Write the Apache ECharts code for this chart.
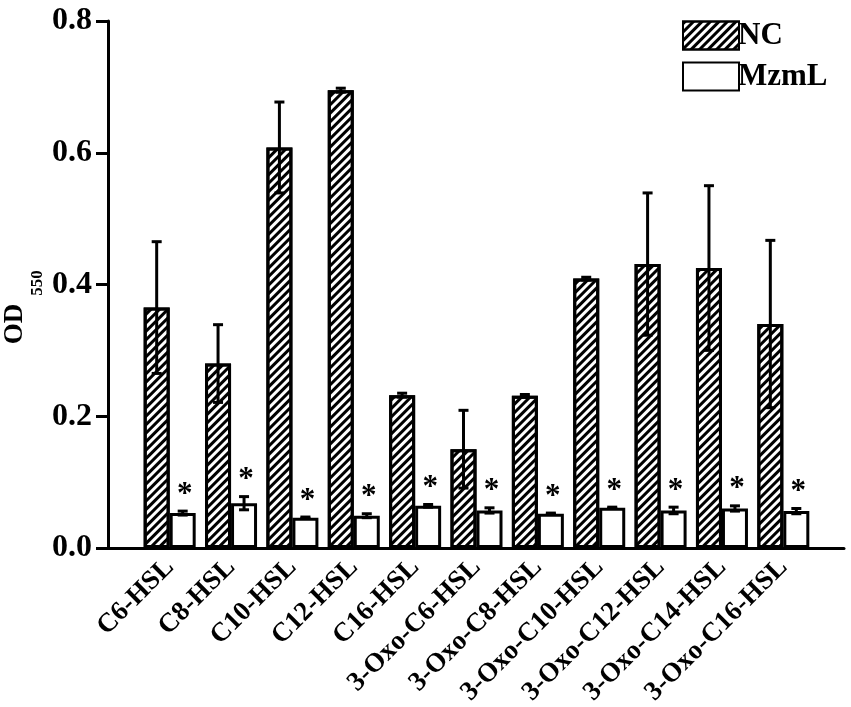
<!DOCTYPE html>
<html>
<head>
<meta charset="utf-8">
<title>OD550</title>
<script src="https://cdn.jsdelivr.net/npm/echarts@6/dist/echarts.min.js"></script>
<style>
  html, body { margin: 0; padding: 0; background: #fff; }
  #chart { width: 851px; height: 707px; }
</style>
</head>
<body>
<div id="chart"></div>
<script>
// data
const categories = ['C6-HSL', 'C8-HSL', 'C10-HSL', 'C12-HSL', 'C16-HSL',
    '3-Oxo-C6-HSL', '3-Oxo-C8-HSL', '3-Oxo-C10-HSL', '3-Oxo-C12-HSL', '3-Oxo-C14-HSL', '3-Oxo-C16-HSL'];
const ncValues = [0.365, 0.280, 0.608, 0.695, 0.232, 0.150, 0.231, 0.409, 0.431, 0.425, 0.340];
const ncErrors = [0.100, 0.059, 0.069, 0.003, 0.003, 0.059, 0.002, 0.002, 0.108, 0.125, 0.127];
const mzValues = [0.053, 0.068, 0.046, 0.049, 0.064, 0.057, 0.052, 0.061, 0.057, 0.060, 0.056];
const mzErrors = [0.003, 0.010, 0.001, 0.003, 0.002, 0.004, 0.001, 0.001, 0.005, 0.004, 0.004];
const marks = ['*', '*', '*', '*', '*', '*', '*', '*', '*', '*', '*'];
const yTicks = [0.0, 0.2, 0.4, 0.6, 0.8];

const FONT = '"Liberation Serif", "Times New Roman", serif';
const BAR_W = 26;
const CAP = 5;

const chart = echarts.init(document.getElementById('chart'));

/**
 * error bar (+ optional star) drawn next to the bar centre
 * side: -1 left bar of the group, 1 right bar
 */
function errorBar(side, withMark) {
    return function (params, api) {
        const i = api.value(0);
        const v = api.value(1);
        const e = api.value(2);
        const hi = api.coord([i, v + e]);
        const lo = api.coord([i, v - e]);
        const x = hi[0] + side * BAR_W / 2;
        const style = { stroke: '#000', lineWidth: 3 };
        const children = [
            { type: 'line', shape: { x1: x, y1: hi[1], x2: x, y2: lo[1] }, style },
            { type: 'line', shape: { x1: x - CAP, y1: hi[1], x2: x + CAP, y2: hi[1] }, style },
            { type: 'line', shape: { x1: x - CAP, y1: lo[1], x2: x + CAP, y2: lo[1] }, style }
        ];
        if (withMark) {
            children.push({
                type: 'text',
                style: {
                    text: marks[params.dataIndex], x: x + 2, y: hi[1] - 1,
                    align: 'center', verticalAlign: 'bottom',
                    font: 'bold 31px ' + FONT, fill: '#000'
                }
            });
        }
        return { type: 'group', children };
    };
}

const hatch = {
    color: '#000',
    dashArrayX: [1, 0],
    dashArrayY: [2.2, 3],
    rotation: -Math.PI / 4
};

const option = {
    animation: false,
    backgroundColor: '#fff',
    textStyle: { fontFamily: FONT },
    legend: {
        orient: 'vertical',
        left: 677,
        top: 15,
        itemWidth: 56,
        itemHeight: 28,
        itemGap: 10,
        icon: 'rect',
        data: ['NC', 'MzmL'],
        textStyle: { fontSize: 31, fontWeight: 'bold', color: '#000', fontFamily: FONT, padding: [0, 0, 0, -6] }
    },
    grid: [
        { left: 139, right: 37, top: 21, bottom: 159, outerBoundsMode: 'none', containLabel: false },
        { left: 108, right: 7, top: 21, bottom: 159, outerBoundsMode: 'none', containLabel: false }
    ],
    xAxis: [{
        type: 'category',
        data: categories,
        gridIndex: 0,
        axisLine: { show: false },
        axisTick: { show: false },
        axisLabel: {
            rotate: 45, margin: 15, interval: 0,
            fontSize: 27, fontWeight: 'bold', color: '#000', fontFamily: FONT
        }
    }, {
        type: 'value',
        gridIndex: 1,
        axisLine: { show: true, lineStyle: { color: '#000', width: 3 } },
        axisTick: { show: false },
        axisLabel: { show: false },
        splitLine: { show: false }
    }],
    yAxis: [{
        type: 'value',
        gridIndex: 0,
        min: 0,
        max: yTicks[yTicks.length - 1],
        interval: 0.2,
        offset: 31,
        name: '{a|OD}{b|550}{c| }',
        nameLocation: 'middle',
        nameGap: 62,
        nameMoveOverlap: false,
        nameTextStyle: {
            padding: [0, 45, 0, 0],
            rich: {
                a: { fontSize: 27, fontWeight: 'bold', color: '#000', fontFamily: FONT, lineHeight: 28, verticalAlign: 'top' },
                b: { fontSize: 17, fontWeight: 'bold', color: '#000', fontFamily: FONT, lineHeight: 17, verticalAlign: 'bottom', padding: [0, 0, 0, 8] },
                c: { fontSize: 2, lineHeight: 44 }
            }
        },
        axisLine: { show: true, lineStyle: { color: '#000', width: 3 } },
        axisTick: { show: true, length: 12, lineStyle: { color: '#000', width: 3 } },
        axisLabel: {
            margin: 16,
            fontSize: 32, fontWeight: 'bold', color: '#000', fontFamily: FONT,
            formatter: (v) => v.toFixed(1)
        },
        splitLine: { show: false }
    }, {
        type: 'value', gridIndex: 1, show: false
    }],
    series: [
        {
            name: 'NC',
            type: 'bar',
            barWidth: BAR_W,
            barGap: '0%',
            data: ncValues,
            itemStyle: { color: '#fff', borderColor: '#000', borderWidth: 3, decal: hatch }
        },
        {
            name: 'MzmL',
            type: 'bar',
            barWidth: BAR_W,
            barGap: '0%',
            data: mzValues,
            itemStyle: { color: '#fff', borderColor: '#000', borderWidth: 3 }
        },
        {
            type: 'custom',
            z: 5,
            renderItem: errorBar(-1, false),
            encode: { x: 0, y: 1 },
            data: ncValues.map((v, i) => [i, v, ncErrors[i]])
        },
        {
            type: 'custom',
            z: 5,
            renderItem: errorBar(1, true),
            encode: { x: 0, y: 1 },
            data: mzValues.map((v, i) => [i, v, mzErrors[i]])
        }
    ]
};

chart.setOption(option);
</script>
</body>
</html>
